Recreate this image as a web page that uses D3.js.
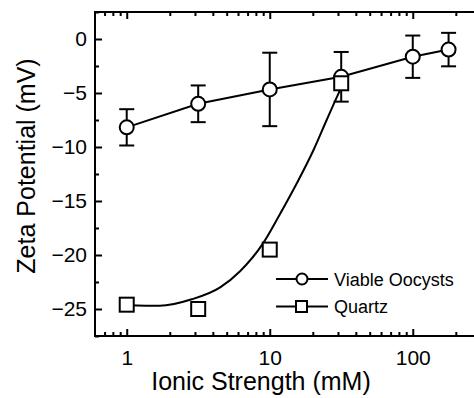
<!DOCTYPE html>
<html>
<head>
<meta charset="utf-8">
<script src="https://cdn.jsdelivr.net/npm/d3@7"></script>
<style>
  body { margin: 0; background: #fff; }
  svg { display: block; font-family: "Liberation Sans", Arial, sans-serif; }
</style>
</head>
<body>
<div class="vis"></div>
<script>
// data
const oocystX = [1, 3.16, 10, 31.6, 100, 178];
const oocystY = [-8.18, -6.0, -4.67, -3.5, -1.64, -0.98];
const oocystErr = [1.68, 1.7, 3.4, 2.3, 1.96, 1.55];

const quartzX = [1, 3.16, 10, 31.6];
const quartzY = [-24.6, -25.0, -19.5, -4.1];

// fitted curve through the quartz points
const fitX = [1, 1.7, 2.85, 4.5, 6.2, 9.0, 11.8, 15.4, 20.2, 25.0, 29.4, 31.6];
const fitY = [-24.65, -24.7, -24.1, -23.0, -21.5, -18.9, -16.2, -13.4, -10.3, -7.5, -5.4, -4.5];

const xMajor = [1, 10, 100];
const xMinor = [0.7, 0.8, 0.9, 2, 3, 4, 5, 6, 7, 8, 9, 20, 30, 40, 50, 60, 70, 80, 90, 200];
const yMajor = [0, -5, -10, -15, -20, -25];
const yMinor = [2.5, -2.5, -7.5, -12.5, -17.5, -22.5, -27.5];

const legendNames = ["Viable Oocysts", "Quartz"];

const W = 474, H = 398;
const plot = {left: 95, right: 481, top: 12, bottom: 336};

const svg = d3.select('.vis').append('svg')
    .attr('width', W)
    .attr('height', H);

const x = d3.scaleLog().domain([0.6, 300]).range([plot.left, plot.right]);
const y = d3.scaleLinear().domain([-27.5, 2.5]).range([plot.bottom, plot.top]);

// axes, ticks pointing inward
const axisStyle = (g) => {
    g.select('.domain').remove();
    g.selectAll('line').attr('stroke', '#000').attr('stroke-width', 2);
    g.selectAll('text').attr('fill', '#000');
};

svg.append('g')
    .attr('transform', 'translate(0,' + plot.bottom + ')')
    .call(d3.axisBottom(x).tickValues(xMajor).tickSize(-7).tickPadding(14).tickFormat(d3.format('d')))
    .call(axisStyle)
    .selectAll('text').attr('font-size', 21);
svg.append('g')
    .attr('transform', 'translate(0,' + plot.bottom + ')')
    .call(d3.axisBottom(x).tickValues(xMinor).tickSize(-4).tickFormat(''))
    .call(axisStyle);
svg.append('g')
    .attr('transform', 'translate(0,' + plot.top + ')')
    .call(d3.axisTop(x).tickValues(xMajor).tickSize(-7).tickFormat(''))
    .call(axisStyle);
svg.append('g')
    .attr('transform', 'translate(0,' + plot.top + ')')
    .call(d3.axisTop(x).tickValues(xMinor).tickSize(-4).tickFormat(''))
    .call(axisStyle);

svg.append('g')
    .attr('transform', 'translate(' + plot.left + ',0)')
    .call(d3.axisLeft(y).tickValues(yMajor).tickSize(-7).tickPadding(8))
    .call(axisStyle)
    .selectAll('text').attr('font-size', 21);
svg.append('g')
    .attr('transform', 'translate(' + plot.left + ',0)')
    .call(d3.axisLeft(y).tickValues(yMinor).tickSize(-4).tickFormat(''))
    .call(axisStyle);
svg.append('g')
    .attr('transform', 'translate(' + plot.right + ',0)')
    .call(d3.axisRight(y).tickValues(yMajor).tickSize(-7).tickFormat(''))
    .call(axisStyle);
svg.append('g')
    .attr('transform', 'translate(' + plot.right + ',0)')
    .call(d3.axisRight(y).tickValues(yMinor).tickSize(-4).tickFormat(''))
    .call(axisStyle);

// frame
svg.append('rect')
    .attr('x', plot.left).attr('y', plot.top)
    .attr('width', plot.right - plot.left).attr('height', plot.bottom - plot.top)
    .attr('fill', 'none').attr('stroke', '#000').attr('stroke-width', 2);

// axis titles
svg.append('text')
    .attr('x', 261).attr('y', 390)
    .attr('text-anchor', 'middle')
    .attr('font-size', 25)
    .text('Ionic Strength (mM)');
svg.append('text')
    .attr('transform', 'translate(35,166) rotate(-90)')
    .attr('text-anchor', 'middle')
    .attr('font-size', 25)
    .text('Zeta Potential (mV)');

// quartz fit curve
const fit = fitX.map((d, i) => [d, fitY[i]]);
svg.append('path')
    .datum(fit)
    .attr('fill', 'none').attr('stroke', '#000').attr('stroke-width', 2)
    .attr('d', d3.line().x(d => x(d[0])).y(d => y(d[1])).curve(d3.curveMonotoneX));

// oocyst line + error bars
const oocysts = oocystX.map((d, i) => ({x: d, y: oocystY[i], e: oocystErr[i]}));
svg.append('path')
    .datum(oocysts)
    .attr('fill', 'none').attr('stroke', '#000').attr('stroke-width', 2)
    .attr('d', d3.line().x(d => x(d.x)).y(d => y(d.y)));

const eb = svg.append('g').attr('stroke', '#000').attr('stroke-width', 2);
oocysts.forEach(d => {
    const cx = x(d.x);
    eb.append('line').attr('x1', cx).attr('x2', cx).attr('y1', y(d.y + d.e)).attr('y2', y(d.y - d.e));
    eb.append('line').attr('x1', cx - 7.5).attr('x2', cx + 7.5).attr('y1', y(d.y + d.e)).attr('y2', y(d.y + d.e));
    eb.append('line').attr('x1', cx - 7.5).attr('x2', cx + 7.5).attr('y1', y(d.y - d.e)).attr('y2', y(d.y - d.e));
});

svg.selectAll('.oocyst')
    .data(oocysts)
    .enter().append('circle')
    .attr('cx', d => x(d.x)).attr('cy', d => y(d.y)).attr('r', 7)
    .attr('fill', '#fff').attr('stroke', '#000').attr('stroke-width', 2);

const quartz = quartzX.map((d, i) => ({x: d, y: quartzY[i]}));
svg.selectAll('.quartz')
    .data(quartz)
    .enter().append('rect')
    .attr('x', d => x(d.x) - 7).attr('y', d => y(d.y) - 7)
    .attr('width', 14).attr('height', 14)
    .attr('fill', '#fff').attr('stroke', '#000').attr('stroke-width', 2);

// legend
const lg = svg.append('g').attr('stroke', '#000').attr('stroke-width', 2);
legendNames.forEach((name, i) => {
    const ly = 279 + i * 27.5;
    lg.append('line').attr('x1', 276).attr('x2', 328).attr('y1', ly).attr('y2', ly);
    if (i === 0) {
        lg.append('circle').attr('cx', 302).attr('cy', ly).attr('r', 5.5).attr('fill', '#fff');
    } else {
        lg.append('rect').attr('x', 296).attr('y', ly - 5.5).attr('width', 11).attr('height', 11).attr('fill', '#fff');
    }
    svg.append('text')
        .attr('x', 334).attr('y', ly + 6.5)
        .attr('font-size', 18)
        .text(name);
});
</script>
</body>
</html>
